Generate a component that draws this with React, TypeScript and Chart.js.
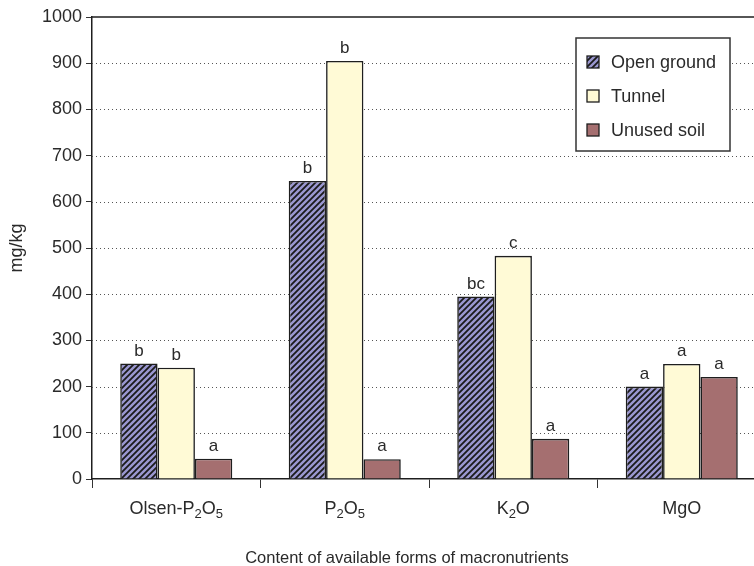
import React, { useEffect, useRef } from "react";
import { Chart, registerables } from "chart.js";

Chart.register(...registerables);

const categories = ["Olsen-P2O5", "P2O5", "K2O", "MgO"];
const seriesNames = ["Open ground", "Tunnel", "Unused soil"];
const openGround = [250, 645, 395, 200];
const tunnel = [241, 905, 483, 249];
const unusedSoil = [44, 43, 87, 221];
const openLetters = ["b", "b", "bc", "a"];
const tunnelLetters = ["b", "b", "c", "a"];
const unusedLetters = ["a", "a", "a", "a"];
const yTicks = [0, 100, 200, 300, 400, 500, 600, 700, 800, 900, 1000];
const xTitle = "Content of available forms of macronutrients";
const yTitle = "mg/kg";

const FONT = "'Liberation Sans', Arial, Helvetica, sans-serif";
const TEXT = "#2a2a2a";
const EDGE = "#1e1e1e";

function makeHatch(): CanvasPattern | string {
  const c = document.createElement("canvas");
  c.width = 6;
  c.height = 6;
  const g = c.getContext("2d");
  if (!g) return "#9a97d0";
  g.fillStyle = "#9a97d0";
  g.fillRect(0, 0, 6, 6);
  g.strokeStyle = "#1a1a1a";
  g.lineWidth = 1.8;
  g.beginPath();
  g.moveTo(-1, 7);
  g.lineTo(7, -1);
  g.moveTo(-4, 4);
  g.lineTo(4, -4);
  g.moveTo(2, 10);
  g.lineTo(10, 2);
  g.stroke();
  return g.createPattern(c, "repeat") || "#9a97d0";
}

function drawSubText(ctx: CanvasRenderingContext2D, text: string, cx: number, cy: number, size: number) {
  const parts: { t: string; sub: boolean }[] = [];
  for (let i = 0; i < text.length; i++) {
    const ch = text[i];
    const isSub = /[0-9]/.test(ch) && i > 0 && /[A-Za-z0-9]/.test(text[i - 1]);
    const last = parts[parts.length - 1];
    if (last && last.sub === isSub) last.t += ch;
    else parts.push({ t: ch, sub: isSub });
  }
  const subSize = Math.round(size * 0.7);
  let total = 0;
  for (const p of parts) {
    ctx.font = `${p.sub ? subSize : size}px ${FONT}`;
    total += ctx.measureText(p.t).width;
  }
  let x = cx - total / 2;
  ctx.textAlign = "left";
  ctx.textBaseline = "middle";
  for (const p of parts) {
    ctx.font = `${p.sub ? subSize : size}px ${FONT}`;
    ctx.fillText(p.t, x, p.sub ? cy + 5 : cy);
    x += ctx.measureText(p.t).width;
  }
}

export default function App() {
  const ref = useRef<HTMLCanvasElement | null>(null);

  useEffect(() => {
    if (!ref.current) return;
    const hatch = makeHatch();
    const fills: (CanvasPattern | string)[] = [hatch, "#fffad6", "#a56f70"];
    const letters = [openLetters, tunnelLetters, unusedLetters];

    const custom = {
      id: "custom",
      beforeDatasetsDraw(chart: any) {
        const { ctx, chartArea } = chart;
        const y = chart.scales.y;
        ctx.save();
        ctx.strokeStyle = "#555";
        ctx.lineWidth = 1;
        ctx.setLineDash([1, 3]);
        for (const v of yTicks) {
          if (v === 0 || v === 1000) continue;
          const py = Math.round(y.getPixelForValue(v)) + 0.5;
          ctx.beginPath();
          ctx.moveTo(chartArea.left, py);
          ctx.lineTo(chartArea.right, py);
          ctx.stroke();
        }
        ctx.restore();
      },
      afterDraw(chart: any) {
        const { ctx, chartArea } = chart;
        const x = chart.scales.x;
        ctx.save();
        ctx.strokeStyle = EDGE;
        ctx.lineWidth = 1.5;
        ctx.beginPath();
        ctx.moveTo(chartArea.left, chartArea.top);
        ctx.lineTo(chartArea.right, chartArea.top);
        ctx.stroke();

        ctx.fillStyle = TEXT;
        categories.forEach((c, i) => {
          drawSubText(ctx, c, x.getPixelForValue(i), 509, 18);
        });

        chart.data.datasets.forEach((ds: any, di: number) => {
          const meta = chart.getDatasetMeta(di);
          meta.data.forEach((bar: any, i: number) => {
            ctx.font = `17px ${FONT}`;
            ctx.textAlign = "center";
            ctx.textBaseline = "bottom";
            ctx.fillText(letters[di][i], bar.x, bar.y - 4);
          });
        });

        ctx.font = `16.5px ${FONT}`;
        ctx.textAlign = "center";
        ctx.textBaseline = "middle";
        ctx.fillText(xTitle, 407, 558);
        ctx.save();
        ctx.translate(17, 248);
        ctx.rotate(-Math.PI / 2);
        ctx.font = `18px ${FONT}`;
        ctx.fillText(yTitle, 0, 0);
        ctx.restore();

        const lx = 576, ly = 38, lw = 154, lh = 113;
        ctx.fillStyle = "#ffffff";
        ctx.fillRect(lx, ly, lw, lh);
        ctx.strokeStyle = "#333";
        ctx.lineWidth = 1.5;
        ctx.strokeRect(lx, ly, lw, lh);
        const rows = [62, 96, 130];
        seriesNames.forEach((name, i) => {
          ctx.fillStyle = fills[i] as any;
          ctx.fillRect(587, rows[i] - 6, 12, 12);
          ctx.strokeStyle = EDGE;
          ctx.lineWidth = 1.3;
          ctx.strokeRect(587, rows[i] - 6, 12, 12);
          ctx.fillStyle = TEXT;
          ctx.font = `18px ${FONT}`;
          ctx.textAlign = "left";
          ctx.textBaseline = "middle";
          ctx.fillText(name, 611, rows[i] + 1);
        });
        ctx.restore();
      },
    };

    const chart = new Chart(ref.current, {
      type: "bar",
      data: {
        labels: categories,
        datasets: [
          { label: seriesNames[0], data: openGround, backgroundColor: hatch as any, borderColor: EDGE, borderWidth: 1.6 },
          { label: seriesNames[1], data: tunnel, backgroundColor: "#fffad6", borderColor: EDGE, borderWidth: 1.6 },
          { label: seriesNames[2], data: unusedSoil, backgroundColor: "#a56f70", borderColor: EDGE, borderWidth: 1.6 },
        ],
      },
      options: {
        responsive: false,
        animation: false,
        devicePixelRatio: 1,
        layout: { padding: { top: 17, right: 14, left: 0, bottom: 0 } },
        datasets: { bar: { categoryPercentage: 0.665, barPercentage: 1 } },
        plugins: { legend: { display: false }, tooltip: { enabled: false }, title: { display: false } },
        scales: {
          x: {
            offset: true,
            grid: { display: true, drawOnChartArea: false, drawTicks: true, tickLength: 9, tickColor: "#333", offset: true },
            border: { display: true, color: EDGE, width: 1.5 },
            ticks: { display: false },
            afterFit(scale: any) {
              scale.height = 87;
            },
          },
          y: {
            min: 0,
            max: 1000,
            grid: { display: true, drawOnChartArea: false, drawTicks: true, tickLength: 6, tickColor: "#333" },
            border: { display: true, color: EDGE, width: 1.5 },
            ticks: {
              stepSize: 100,
              padding: 4,
              color: TEXT,
              font: { family: FONT, size: 18 },
              callback: (v: any) => String(v),
            },
            afterFit(scale: any) {
              scale.width = 92;
            },
          },
        },
      },
      plugins: [custom],
    } as any);
    return () => chart.destroy();
  }, []);

  return (
    <div style={{ position: "fixed", left: 0, top: 0, width: 754, height: 566, overflow: "hidden", background: "#fff" }}>
      <canvas ref={ref} width={780} height={566} style={{ display: "block", width: 780, height: 566 }} />
    </div>
  );
}
